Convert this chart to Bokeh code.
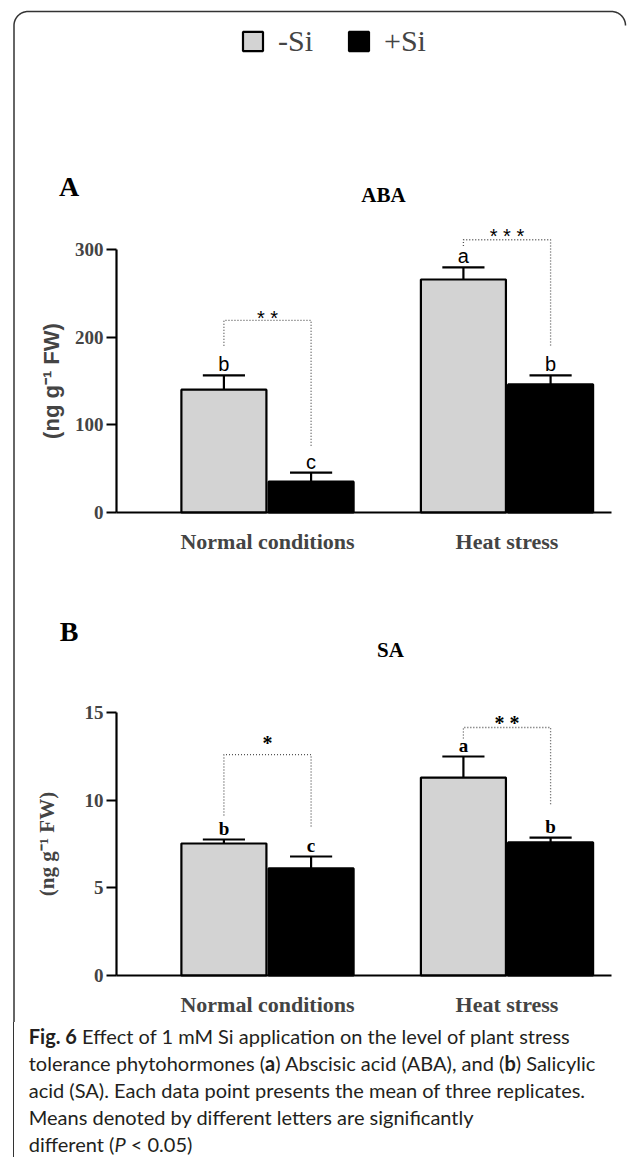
import numpy as np
from bokeh.plotting import figure
from bokeh.models import (ColumnDataSource, Range1d, LinearAxis, FixedTicker,
                          Legend, LegendItem, Div)
from bokeh.layouts import column
from bokeh.core.properties import value
from bokeh.embed import file_html
from bokeh.resources import INLINE

# ---------------- data ----------------
categories = ["Normal conditions", "Heat stress"]
series = ["-Si", "+Si"]

aba_minus = [140.0, 265.7]
aba_minus_err = [16.3, 13.7]
aba_plus = [35.2, 146.0]
aba_plus_err = [10.3, 10.3]
aba_letters_minus = ["b", "a"]
aba_letters_plus = ["c", "b"]
aba_ticks = [0, 100, 200, 300]
aba_sig = ["* *", "* * *"]
aba_sig_y = [214.0, 307.0]
aba_brk_top = [219.0, 311.0]
aba_brk_left = [190.0, 304.0]
aba_brk_right = [75.0, 190.0]

sa_minus = [7.52, 11.28]
sa_minus_err = [0.23, 1.20]
sa_plus = [6.10, 7.58]
sa_plus_err = [0.68, 0.28]
sa_letters_minus = ["b", "a"]
sa_letters_plus = ["c", "b"]
sa_ticks = [0, 5, 10, 15]
sa_sig = ["*", "* *"]
sa_sig_y = [12.84, 13.98]
sa_brk_top = [12.59, 14.13]
sa_brk_left = [9.12, 13.50]
sa_brk_right = [8.38, 9.74]

ylabel = "(ng g\u207b\u00b9 FW)"
caption_html = (
    "<b>Fig. 6</b> Effect of 1 mM Si application on the level of plant stress<br>"
    "tolerance phytohormones (<b>a</b>) Abscisic acid (ABA), and (<b>b</b>) Salicylic<br>"
    "acid (SA). Each data point presents the mean of three replicates.<br>"
    "Means denoted by different letters are significantly<br>"
    "different (<i>P</i>&nbsp;&lt;&nbsp;0.05)"
)

# ---------------- layout constants ----------------
W, H = 633, 1022
CAP_H = 1157 - H
SERIF = "Liberation Serif"
SANS = "Liberation Sans"

GX0, GSTEP = 267.0, 239.5          # page x of first group centre, px per group
x_start = 1 - GX0 / GSTEP
x_end = x_start + W / GSTEP


def px_to_x(px):
    return x_start + px / GSTEP


BAR_W = 0.355
OFF = 0.182
CAP = 0.088
AXIS_X = 116
AXIS_RIGHT = 611

p = figure(width=W, height=H, x_range=Range1d(0, W), y_range=Range1d(H, 0),
           x_axis_type=None, y_axis_type=None, toolbar_location=None,
           output_backend="svg", min_border=0, outline_line_color=None,
           background_fill_color="white", border_fill_color="white")
p.extra_x_ranges = {"X": Range1d(x_start, x_end)}
p.extra_y_ranges = {
    "A": Range1d((512 - H) / 0.877, 512 / 0.877),
    "B": Range1d((975 - H) / 17.55, 975 / 17.55),
}

# outer frame (decoration)
R = 14.0
L, T, RT = 13.5, 11.0, 625.0
th1 = np.linspace(np.pi, 1.5 * np.pi, 20)
th2 = np.linspace(1.5 * np.pi, 2 * np.pi, 20)
fx = np.concatenate([[L], L + R + R * np.cos(th1), RT - R + R * np.cos(th2)])
fy = np.concatenate([[H], T + R + R * np.sin(th1), T + R + R * np.sin(th2)])
p.line(fx, fy, line_color="#333333", line_width=1.5)


def draw_panel(rng, minus, minus_err, plus, plus_err, let_m, let_p, ticks,
               sig, sig_y, brk_top, brk_l, brk_r, letter_font, letter_style,
               letter_size, sig_font, sig_style, sig_size, ylab_font,
               ylab_size, ylab_standoff):
    xs = np.arange(1, len(categories) + 1, dtype=float)
    rends = []
    for vals, errs, labs, off, color in [
            (minus, minus_err, let_m, -OFF, "#d3d3d3"),
            (plus, plus_err, let_p, OFF, "black")]:
        v = np.array(vals, float)
        e = np.array(errs, float)
        src = ColumnDataSource(dict(x=xs + off, top=v, etop=v + e,
                                    cl=xs + off - CAP, cr=xs + off + CAP,
                                    lab=labs))
        r = p.vbar(x="x", top="top", bottom=0, width=BAR_W, source=src,
                   fill_color=color, line_color="black", line_width=2.2,
                   x_range_name="X", y_range_name=rng)
        p.segment(x0="x", y0="top", x1="x", y1="etop", source=src,
                  line_color="black", line_width=2.2,
                  x_range_name="X", y_range_name=rng)
        p.segment(x0="cl", y0="etop", x1="cr", y1="etop", source=src,
                  line_color="black", line_width=2.2,
                  x_range_name="X", y_range_name=rng)
        p.text(x="x", y="etop", text="lab", source=src, text_align="center",
               text_baseline="alphabetic", y_offset=-11,
               text_font=value(letter_font), text_font_style=letter_style,
               text_font_size=letter_size, text_color="black",
               x_range_name="X", y_range_name=rng)
        rends.append(r)
    bxs = [[g - OFF, g - OFF, g + OFF, g + OFF] for g in xs]
    bys = [[l, t, t, r] for l, t, r in zip(brk_l, brk_top, brk_r)]
    p.multi_line(xs=bxs, ys=bys, line_color="#555555", line_width=1.3,
                 line_dash="1 2", x_range_name="X", y_range_name=rng)
    p.text(x=list(xs), y=sig_y, text=sig, text_align="center",
           text_baseline="alphabetic", y_offset=-7, text_font=value(sig_font),
           text_font_style=sig_style, text_font_size=sig_size,
           text_color="black", x_range_name="X", y_range_name=rng)

    ya = LinearAxis(y_range_name=rng, fixed_location=AXIS_X,
                    bounds=(ticks[0], ticks[-1]),
                    ticker=FixedTicker(ticks=ticks), axis_label=ylabel)
    ya.axis_line_width = 2.2
    ya.major_tick_line_width = 2.2
    ya.major_tick_out = 10
    ya.major_tick_in = 0
    ya.minor_tick_out = 0
    ya.minor_tick_in = 0
    ya.major_label_standoff = 3
    ya.major_label_text_font = SERIF
    ya.major_label_text_font_style = "bold"
    ya.major_label_text_font_size = "19px"
    ya.axis_label_text_font = ylab_font
    ya.axis_label_text_font_style = "bold"
    ya.axis_label_text_font_size = ylab_size
    ya.axis_label_standoff = ylab_standoff
    p.add_layout(ya, "left")

    xa = LinearAxis(x_range_name="X", y_range_name=rng, fixed_location=0,
                    bounds=(px_to_x(AXIS_X), px_to_x(AXIS_RIGHT)),
                    ticker=FixedTicker(ticks=list(xs)),
                    major_label_overrides={int(g): c for g, c in zip(xs, categories)})
    xa.axis_line_width = 2.2
    xa.major_tick_out = 0
    xa.major_tick_in = 0
    xa.minor_tick_out = 0
    xa.minor_tick_in = 0
    xa.major_label_standoff = 16
    xa.major_label_text_font = SERIF
    xa.major_label_text_font_style = "bold"
    xa.major_label_text_font_size = "22px"
    p.add_layout(xa, "below")
    return rends


rA = draw_panel("A", aba_minus, aba_minus_err, aba_plus, aba_plus_err,
                aba_letters_minus, aba_letters_plus, aba_ticks, aba_sig,
                aba_sig_y, aba_brk_top, aba_brk_left, aba_brk_right,
                SANS, "normal", "20px", SANS, "normal", "20px",
                SANS, "22px", 8)
rB = draw_panel("B", sa_minus, sa_minus_err, sa_plus, sa_plus_err,
                sa_letters_minus, sa_letters_plus, sa_ticks, sa_sig,
                sa_sig_y, sa_brk_top, sa_brk_left, sa_brk_right,
                SERIF, "bold", "19px", SERIF, "bold", "20px",
                SERIF, "21px", 23)

# panel letters and titles (page coordinates)
p.text(x=[68.5, 68.5], y=[186, 631], text=["A", "B"], text_align="center",
       text_baseline="middle", text_font=value(SERIF), text_font_style="bold",
       text_font_size="28px", text_color="black")
p.text(x=[383, 390], y=[194, 649], text=["ABA", "SA"], text_align="center",
       text_baseline="middle", text_font=value(SERIF), text_font_style="bold",
       text_font_size="21px", text_color="black")

legend = Legend(items=[LegendItem(label=series[0], renderers=[rA[0]]),
                       LegendItem(label=series[1], renderers=[rA[1]])],
                orientation="horizontal", location=(240, H - 58),
                border_line_color=None, background_fill_alpha=0,
                padding=0, margin=0, spacing=33, label_standoff=13,
                glyph_width=25, glyph_height=24,
                label_text_font=SERIF, label_text_font_size="30px")
p.add_layout(legend)

cap = Div(text=(
    '<div style="box-sizing:border-box;margin-left:12.75px;'
    'border-left:1.5px solid #333333;height:%dpx;padding-left:15px;'
    'padding-top:1px;font-family:Lato;font-size:20px;line-height:27px;'
    'color:#231f20;white-space:nowrap;">%s</div>' % (CAP_H, caption_html)),
    width=W, height=CAP_H, margin=0)

layout = column(p, cap, spacing=0)
open("out.html", "w").write(file_html(layout, INLINE))
